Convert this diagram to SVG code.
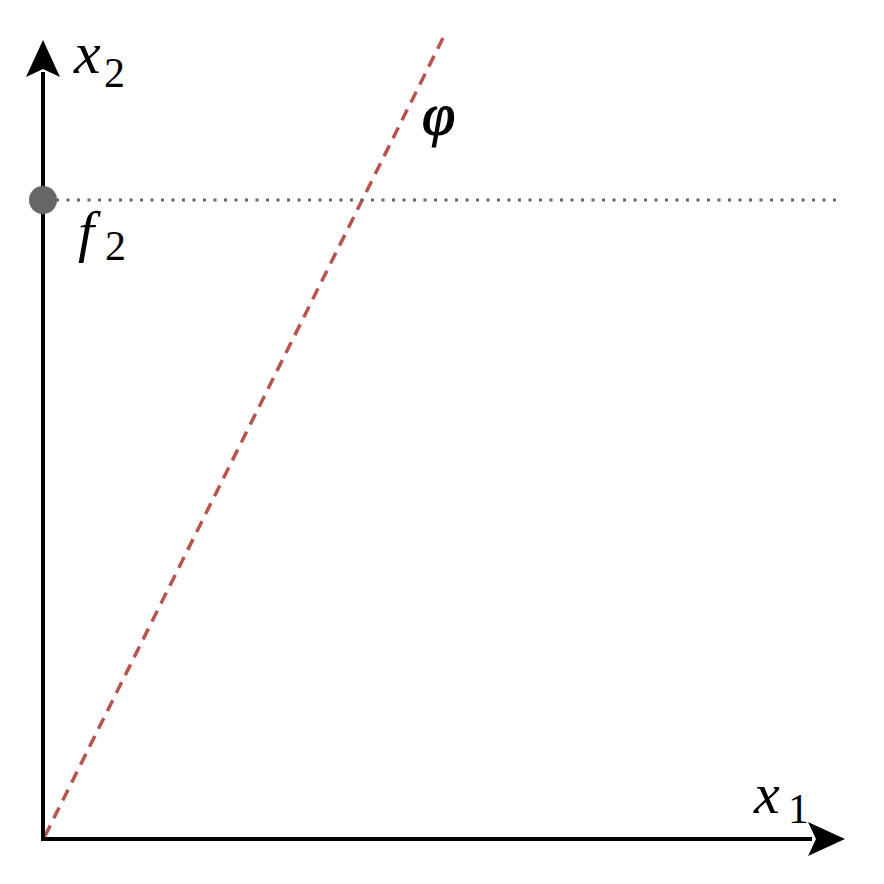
<svg xmlns="http://www.w3.org/2000/svg" width="884" height="884" viewBox="0 0 884 884">
<style>
.lbl{font-family:"Liberation Serif","Times New Roman",serif;fill:#000}
.it{font-style:italic}
</style>
<rect width="884" height="884" fill="#fff"/>
<g id="connectors">
<line x1="443" y1="38" x2="44" y2="838" stroke="#b85450" stroke-width="3.5" stroke-dasharray="12,8"/>
<line x1="56" y1="200" x2="843" y2="200" stroke="#666" stroke-width="3" stroke-dasharray="3,7.5"/>
</g>
<g id="axes">
<line x1="43" y1="840" x2="43" y2="72" stroke="#000" stroke-width="4"/>
<line x1="41" y1="839" x2="812" y2="839" stroke="#000" stroke-width="4"/>
<polygon points="43,40 60,77 43,69 26,77" fill="#000"/>
<polygon points="845,839 808,856 816,839 808,822" fill="#000"/>
</g>
<g id="point-f2">
<circle cx="43" cy="200" r="14" fill="#666"/>
</g>
<g id="labels">
<text class="lbl it" x="74" y="73" font-size="60">x</text><text class="lbl" x="104" y="87" font-size="42">2</text>
<text class="lbl it" x="78" y="251" font-size="58">f</text><text class="lbl" x="105" y="260" font-size="42">2</text>
<text class="lbl it" x="422" y="134" font-size="60" stroke="#000" stroke-width="1.2">φ</text>
<text class="lbl it" x="754" y="813" font-size="58">x</text><text class="lbl" x="788" y="823" font-size="42">1</text>
</g>
</svg>
